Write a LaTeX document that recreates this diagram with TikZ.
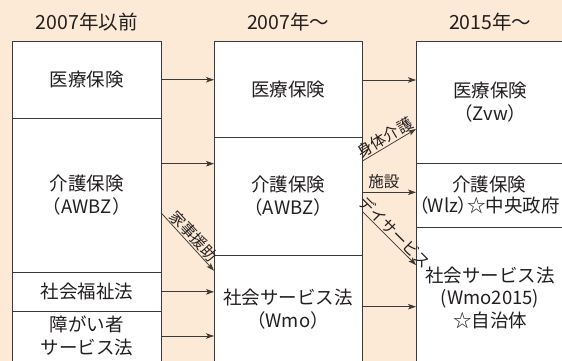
\documentclass[tikz,border=0pt]{standalone}
\usepackage{fontspec}
\setmainfont{Noto Sans CJK JP}
\usetikzlibrary{arrows.meta,calc}
\definecolor{bgc}{HTML}{FCE9D6}
\definecolor{lnc}{HTML}{3A3A3A}
\definecolor{txc}{HTML}{231F20}
\tikzset{
  box/.style={draw=lnc, line width=0.9pt, fill=white, minimum width=148.5pt, anchor=north west, inner sep=0pt, outer sep=0pt},
  txt/.style={font=\fontsize{18.5}{23.5}\selectfont, align=center, text=txc, inner sep=0pt},
  hdr/.style={font=\fontsize{19.5}{22}\selectfont, text=txc, inner sep=0pt},
  arr/.style={draw=lnc, line width=0.75pt, -{Stealth[length=8pt,width=5.5pt,inset=2pt]}},
  lab/.style={font=\fontsize{15.5}{18}\selectfont, text=txc, inner sep=1pt},
}
\begin{document}
\begin{tikzpicture}[x=1pt,y=-1pt]
\fill[bgc] (0,0) rectangle (562,361);
\useasboundingbox (0,0) rectangle (562,361);
% column 1
\node[box, minimum height=76.5pt]  (c1a) at (12.5,41.5) {};
\node[box, minimum height=154.7pt] (c1b) at (12.5,118) {};
\node[box, minimum height=38.3pt]  (c1c) at (12.5,272.7) {};
\node[box, minimum height=80pt]    (c1d) at (12.5,311) {};
% column 2
\node[box, minimum height=95.5pt]  (c2a) at (214,41.5) {};
\node[box, minimum height=118pt]   (c2b) at (214,137) {};
\node[box, minimum height=140pt]   (c2c) at (214,255) {};
% column 3
\node[box, minimum height=121.5pt] (c3a) at (416,41.5) {};
\node[box, minimum height=64pt]    (c3b) at (416,163) {};
\node[box, minimum height=170pt]   (c3c) at (416,227) {};
% headers
\node[hdr] (h1) at ($(c1a.north)+(0,-19.5)$) {2007年以前};
\node[hdr] (h2) at ($(c2a.north)+(0,-19.5)$) {2007年〜};
\node[hdr] (h3) at ($(c3a.north)+(0,-19.5)$) {2015年〜};
% texts
\node[txt] (t1a) at (c1a.center) {医療保険};
\node[txt] (t1b) at (c1b.center) {介護保険\\（AWBZ）};
\node[txt] (t1c) at (c1c.center) {社会福祉法};
\node[txt] (t1d) at (86.75,336) {障がい者\\サービス法};
\node[txt] (t2a) at (c2a.center) {医療保険};
\node[txt] (t2b) at (c2b.center) {介護保険\\（AWBZ）};
\node[txt] (t2c) at (288,309) {社会サービス法\\（Wmo）};
\node[txt] (t3a) at (c3a.center) {医療保険\\（Zvw）};
\node[txt, font=\fontsize{18.5}{21.5}\selectfont] (t3b) at ($(c3b.center)+(-1,0)$) {介護保険\\{\addfontfeatures{RawFeature=+palt}（Wlz）☆中央政府}};
\node[txt, font=\fontsize{18.5}{22.5}\selectfont] (t3c) at (490,297.5) {社会サービス法\\(Wmo2015)\\☆自治体};
% arrows column 1 -> column 2
\coordinate (p2) at (161,163.7);
\coordinate (p4) at (161,336);
\coordinate (p5) at (161,212.7);
\coordinate (q5) at (214,270.7);
\draw[arr] (c1a.east) -- (c1a.east -| c2a.west);
\draw[arr] (p2) -- (p2 -| c2b.west);
\draw[arr] (c1c.east) -- (c1c.east -| c2c.west);
\draw[arr] (p4) -- (p4 -| c2c.west);
\draw[arr] (p5) -- node[lab, sloped, above, midway] (l1) {家事援助} (q5);
% arrows column 2 -> column 3
\coordinate (r1) at (362.5,80);
\coordinate (r2) at (362.5,161);
\coordinate (s2) at (416,129);
\coordinate (r3) at (362.5,192.3);
\coordinate (r4) at (362.5,211.7);
\coordinate (s4) at (416,265);
\coordinate (r5) at (362.5,306.7);
\draw[arr] (r1) -- (r1 -| c3a.west);
\draw[arr] (r2) -- node[lab, sloped, above, midway] (l2) {身体介護} (s2);
\draw[arr] (r3) -- node[lab, above=2.5pt, pos=0.4] (l3) {施設} (r3 -| c3b.west);
\draw[arr] (r4) -- node[lab, sloped, above, midway] (l4) {デイサービス} (s4);
\draw[arr] (r5) -- (r5 -| c3c.west);
\end{tikzpicture}
\end{document}
